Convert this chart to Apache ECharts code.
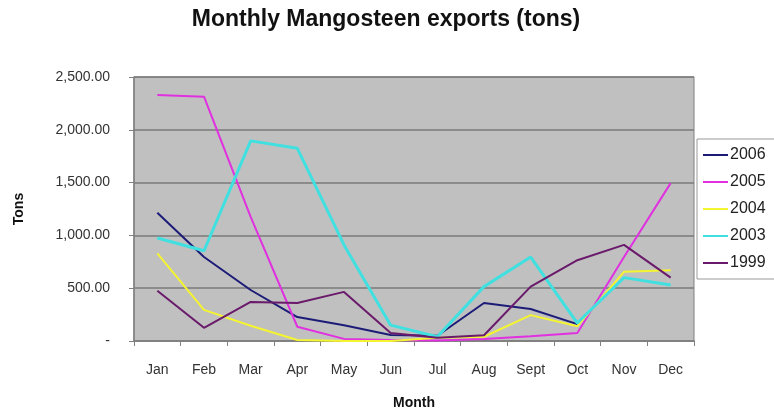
<!DOCTYPE html>
<html><head><meta charset="utf-8">
<script src="https://cdn.jsdelivr.net/npm/echarts@6/dist/echarts.min.js"></script>
<style>html,body{margin:0;padding:0;background:#fff}#c{width:774px;height:414px}</style>
</head><body><div id="c"></div>
<script>
var months = ['Jan','Feb','Mar','Apr','May','Jun','Jul','Aug','Sept','Oct','Nov','Dec'];
var s2006 = [1215, 795, 483, 227, 150, 57, 50, 360, 303, 160, null, null];
var s2005 = [2330, 2314, 1175, 135, 20, 10, 5, 20, 45, 75, 795, 1495];
var s2004 = [830, 295, 145, 10, 0, 0, 30, 40, 245, 140, 655, 670];
var s2003 = [975, 855, 1895, 1825, 910, 150, 40, 515, 795, 170, 600, 530];
var s1999 = [475, 125, 370, 360, 465, 75, 30, 55, 515, 765, 910, 600];
var yTicks = [0, 500, 1000, 1500, 2000, 2500];

var chart = echarts.init(document.getElementById('c'));
function mk(name, data, color, w) {
  return {name: name, type: 'line', data: data, showSymbol: false, symbol: 'none',
    lineStyle: {color: color, width: w}, itemStyle: {color: color}};
}
chart.setOption({
  animation: false,
  backgroundColor: '#fff',
  title: {text: 'Monthly Mangosteen exports (tons)', left: 381, top: 3, textAlign: 'center',
    textStyle: {fontFamily: 'Liberation Sans', fontWeight: 'bold', fontSize: 23, color: '#111'}},
  grid: {left: 134, right: 80, top: 77, bottom: 73, show: true, backgroundColor: '#c0c0c0',
    borderColor: '#808080', borderWidth: 1, containLabel: false, outerBoundsMode: 'none'},
  legend: {orient: 'vertical', left: 697, top: 139, backgroundColor: '#fff', borderColor: '#999', borderWidth: 1,
    padding: [8, 30, 8, 6], itemGap: 11, itemWidth: 25, itemHeight: 2, icon: 'rect',
    textStyle: {fontFamily: 'Liberation Sans', fontSize: 16, color: '#222', padding: [0,0,0,-3]},
    data: ['2006','2005','2004','2003','1999']},
  xAxis: {type: 'category', data: months, boundaryGap: true,
    name: 'Month', nameLocation: 'middle', nameGap: 55,
    nameTextStyle: {fontFamily: 'Liberation Sans', fontWeight: 'bold', fontSize: 14, color: '#111'},
    axisLine: {lineStyle: {color: '#808080', width: 1.5}},
    axisTick: {show: true, alignWithLabel: false, length: 5, lineStyle: {color: '#808080'}},
    axisLabel: {fontFamily: 'Liberation Sans', fontSize: 14, color: '#333', margin: 22},
    splitLine: {show: false}},
  yAxis: {type: 'value', min: 0, max: 2500, interval: 500,
    name: 'Tons', nameLocation: 'middle', nameGap: 108, nameRotate: 90,
    nameTextStyle: {fontFamily: 'Liberation Sans', fontWeight: 'bold', fontSize: 14, color: '#111'},
    axisLine: {show: true, lineStyle: {color: '#808080', width: 1.5}},
    axisTick: {show: true, length: 5, lineStyle: {color: '#808080'}},
    axisLabel: {fontFamily: 'Liberation Sans', fontSize: 14, color: '#333', margin: 24,
      formatter: function (v) {
        if (v === 0) return '-';
        return v.toLocaleString('en-US', {minimumFractionDigits: 2, maximumFractionDigits: 2});
      }},
    splitLine: {show: true, lineStyle: {color: '#7a7a7a', width: 1.5}}},
  series: [
    mk('2006', s2006, '#1c1c78', 2),
    mk('2005', s2005, '#e030e0', 2),
    mk('2004', s2004, '#f4f430', 2),
    mk('2003', s2003, '#40e0e0', 3),
    mk('1999', s1999, '#6a1a6a', 2)
  ]
});
</script></body></html>
